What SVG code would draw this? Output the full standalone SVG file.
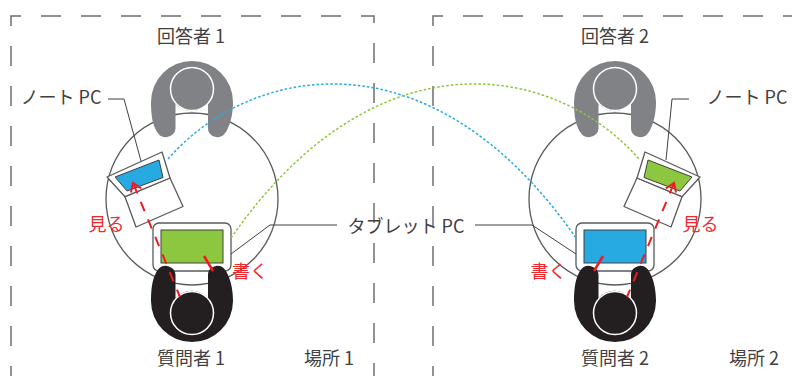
<svg xmlns="http://www.w3.org/2000/svg" width="792" height="376" viewBox="0 0 792 376">
  <defs>
    <style>
      .txt { font-family: "Noto Sans CJK JP", "Noto Sans", sans-serif; font-size: 18px; fill: #414042; text-anchor: middle; }
      .red-txt { font-family: "Noto Sans CJK JP", "Noto Sans", sans-serif; font-size: 18px; fill: #ee2a2f; text-anchor: middle; }
      .place { fill: none; stroke: #6d6e71; stroke-width: 1.5; stroke-dasharray: 20 20; stroke-dashoffset: 10; }
      .table { fill: none; stroke: #58595b; stroke-width: 1.3; }
      .resp { fill: #808285; }
      .quest { fill: #231f20; }
      .head-r { fill: #808285; stroke: #ffffff; stroke-width: 1.5; }
      .head-q { fill: #231f20; stroke: #ffffff; stroke-width: 1.5; }
      .dev { fill: #ffffff; stroke: #58595b; stroke-width: 1.3; stroke-linejoin: round; }
      .scr { stroke: #414042; stroke-width: 1; }
      .blue { fill: #27aae1; }
      .green { fill: #8dc63f; }
      .leader { fill: none; stroke: #414042; stroke-width: 1; }
      .link-b { fill: none; stroke: #27aae1; stroke-width: 1.5; stroke-dasharray: 2.6 2; }
      .link-g { fill: none; stroke: #8dc63f; stroke-width: 1.5; stroke-dasharray: 2.6 2; }
      .look { fill: none; stroke: #ed1c24; stroke-width: 2; stroke-dasharray: 10 9; stroke-dashoffset: 2; }
      .write { fill: none; stroke: #ed1c24; stroke-width: 2.5; }
    </style>
    <marker id="chev" markerUnits="userSpaceOnUse" markerWidth="24" markerHeight="24" viewBox="-12 -12 24 24" refX="0" refY="0" orient="auto">
      <path d="M-8,-5.5 L0,0 L-8,5.5" fill="none" stroke="#ed1c24" stroke-width="2"/>
    </marker>
    <!-- respondent seen from above, facing down -->
    <path id="resp-body" d="M151,102 A41,41 0 0 1 233,102 C233,112 231,122 228,128 C225,135 221,138 216,137 C211,136 208,133 208,128 L208,104 A22,22 0 0 1 175.5,104 L175.5,128 C175.5,133 172,136 167,137 C162,138 158,135 155,128 C152,122 151,112 151,102 Z"/>
    <!-- questioner seen from above, facing up -->
    <path id="quest-body" d="M151,301 A41,41 0 0 0 233,301 C233,291 231,281 228,275 C225,268 221,265 216,266 C211,267 208,270 208,275 L208,298 A22,22 0 0 0 175.5,298 L175.5,275 C175.5,270 172,267 167,266 C162,265 158,268 155,275 C152,281 151,291 151,301 Z"/>
    <!-- laptop outline: lid + base -->
    <polygon id="lap-lid" points="107,177 162,152 170,178 125,196.7"/>
    <polygon id="lap-base" points="125,196.7 170,178 183,206.5 136,227"/>
    <polygon id="lap-scr" points="115,177 159,160 163,177.5 127,191"/>
  </defs>

  <!-- places -->
  <g id="place-1">
    <path class="place" d="M11,376 V16 H374 V376"/>
    <text class="txt" x="329" y="365">場所 1</text>
  </g>
  <g id="place-2">
    <path class="place" d="M433,376 V16 H810"/>
    <text class="txt" x="754" y="365">場所 2</text>
  </g>

  <!-- tables -->
  <g id="table-1"><circle class="table" cx="192" cy="199" r="86"/></g>
  <g id="table-2"><circle class="table" cx="615" cy="199" r="86"/></g>

  <!-- respondents -->
  <g id="respondent-1">
    <use href="#resp-body" class="resp"/>
    <circle class="head-r" cx="192" cy="89" r="21.5"/>
    <text class="txt" x="191" y="43">回答者 1</text>
  </g>
  <g id="respondent-2">
    <use href="#resp-body" class="resp" transform="translate(423,0)"/>
    <circle class="head-r" cx="615" cy="89" r="21.5"/>
    <text class="txt" x="615" y="43">回答者 2</text>
  </g>

  <!-- laptops -->
  <g id="laptop-1">
    <use href="#lap-base" class="dev"/>
    <use href="#lap-lid" class="dev"/>
    <use href="#lap-scr" class="scr blue"/>
    <text class="txt" x="61" y="104">ノート PC</text>
  </g>
  <g id="laptop-2">
    <g transform="translate(807,0) scale(-1,1)">
      <use href="#lap-base" class="dev"/>
      <use href="#lap-lid" class="dev"/>
      <use href="#lap-scr" class="scr green"/>
    </g>
    <text class="txt" x="747" y="104">ノート PC</text>
  </g>

  <!-- tablets -->
  <g id="tablet-1">
    <rect class="dev" x="153" y="223" width="78" height="48" rx="6"/>
    <rect class="scr green" x="161" y="230" width="62" height="33"/>
  </g>
  <g id="tablet-2">
    <rect class="dev" x="576" y="223" width="78" height="48" rx="6"/>
    <rect class="scr blue" x="584" y="230" width="62" height="33"/>
  </g>

  <!-- questioners -->
  <g id="questioner-1">
    <use href="#quest-body" class="quest"/>
    <circle class="head-q" cx="192" cy="313" r="21.5"/>
    <text class="txt" x="191" y="365">質問者 1</text>
  </g>
  <g id="questioner-2">
    <use href="#quest-body" class="quest" transform="translate(423,0)"/>
    <circle class="head-q" cx="615" cy="313" r="21.5"/>
    <text class="txt" x="615" y="365">質問者 2</text>
  </g>

  <text class="txt" x="406" y="233">タブレット PC</text>

  <!-- connectors -->
  <g id="connectors">
    <path class="leader" d="M108,99 H124 L141,161"/>
    <path class="leader" d="M689,99 H672 L666,160"/>
    <path class="leader" d="M231,254 L270,225 H337"/>
    <path class="leader" d="M475,225 H532 L576,254"/>

    <path class="link-b" d="M168,159 C250,65 430,28 576,238"/>
    <path class="link-g" d="M231,238 C377,28 557,65 639,159"/>

    <path class="look" d="M180,297 L133,183" marker-end="url(#chev)"/>
    <path class="write" d="M204,256 L213,271"/>
    <g transform="translate(807,0) scale(-1,1)">
      <path class="look" d="M180,297 L133,183" marker-end="url(#chev)"/>
      <path class="write" d="M204,256 L213,271"/>
    </g>

    <text class="red-txt" x="106.5" y="231">見る</text>
    <text class="red-txt" x="250" y="278">書く</text>
    <text class="red-txt" x="700.5" y="231">見る</text>
    <text class="red-txt" x="548.5" y="278">書く</text>
  </g>
</svg>
